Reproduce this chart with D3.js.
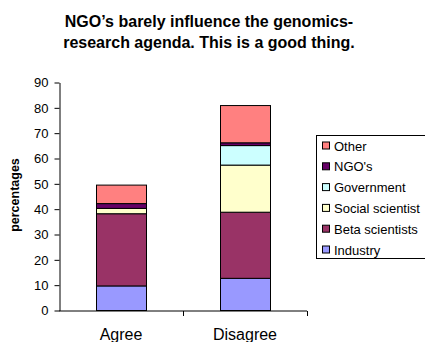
<!DOCTYPE html>
<html>
<head>
<meta charset="utf-8">
<script src="https://cdn.jsdelivr.net/npm/d3@7"></script>
<style>
  html, body { margin: 0; padding: 0; background: #fff; }
  svg { display: block; font-family: "Liberation Sans", Arial, sans-serif; }
</style>
</head>
<body>
<svg id="chart" width="425" height="342"></svg>
<script>
// Who steers the genomics-research agenda: share of answers per stakeholder group
const categories = ["Agree", "Disagree"];
const seriesNames = ["Industry", "Beta scientists", "Social scientist", "Government", "NGO's", "Other"];
const industry        = [9.7, 12.7];
const betaScientists  = [28.5, 26.1];
const socialScientist = [2.1, 18.6];
const government      = [0.0, 7.7];
const ngos            = [1.9, 1.1];
const other           = [7.3, 14.7];
const yTicks = [0, 10, 20, 30, 40, 50, 60, 70, 80, 90];
const colors = ["#9999FF", "#993366", "#FFFFCC", "#CCFFFF", "#660066", "#FF8080"];

const seriesValues = [industry, betaScientists, socialScientist, government, ngos, other];
const rows = categories.map((c, i) => {
  const r = { category: c };
  seriesNames.forEach((s, k) => { r[s] = seriesValues[k][i]; });
  return r;
});

const svg = d3.select("#chart");
const plot = { left: 59, right: 307, top: 82.5, bottom: 310.5 };

const x = d3.scaleBand().domain(categories).range([plot.left, plot.right]).paddingInner(0).paddingOuter(0);
const y = d3.scaleLinear().domain([0, 90]).range([plot.bottom, plot.top]);

const stacked = d3.stack().keys(seriesNames)(rows);
const barW = x.bandwidth() / 2.5;

// Bars
const g = svg.append("g");
stacked.forEach((layer, k) => {
  g.selectAll(null)
    .data(layer.filter(d => d[1] - d[0] > 0))
    .enter().append("rect")
    .attr("x", d => Math.round(x(d.data.category) + (x.bandwidth() - barW) / 2) + 0.5)
    .attr("y", d => y(d[1]))
    .attr("width", Math.round(barW))
    .attr("height", d => y(d[0]) - y(d[1]))
    .attr("fill", colors[k])
    .attr("stroke", "#000")
    .attr("stroke-width", 1);
});

// Y axis
const yAxis = d3.axisLeft(y).tickValues(yTicks).tickSize(5).tickPadding(6).tickSizeOuter(0);
const ya = svg.append("g").attr("transform", `translate(${plot.left + 0.5},0)`).call(yAxis);
ya.select(".domain").attr("stroke", "#000");
ya.selectAll(".tick line").attr("stroke", "#000");
ya.selectAll(".tick text").attr("font-size", 13).attr("fill", "#000")
  .attr("font-family", "Liberation Sans, Arial, sans-serif");

// X axis: ticks mark category boundaries
const xa = svg.append("g").attr("transform", `translate(0,${plot.bottom + 0.5})`);
xa.append("line").attr("x1", plot.left).attr("x2", plot.right).attr("stroke", "#000");
const bounds = [x(categories[1]), plot.right];
xa.selectAll(null).data(bounds).enter().append("line")
  .attr("x1", d => Math.round(d) + 0.5).attr("x2", d => Math.round(d) + 0.5)
  .attr("y1", 0).attr("y2", 5).attr("stroke", "#000");
xa.selectAll(null).data(categories).enter().append("text")
  .attr("x", d => x(d) + x.bandwidth() / 2)
  .attr("y", 29)
  .attr("text-anchor", "middle")
  .attr("font-size", 16)
  .attr("fill", "#000")
  .text(d => d);

// Y axis title
svg.append("text")
  .attr("transform", `translate(19,195) rotate(-90)`)
  .attr("text-anchor", "middle")
  .attr("font-size", 12.5)
  .attr("font-weight", "bold")
  .text("percentages");

// Chart title
const title = svg.append("text").attr("text-anchor", "middle").attr("font-size", 16).attr("font-weight", "bold");
title.append("tspan").attr("x", 209).attr("y", 27).text("NGO’s barely influence the genomics-");
title.append("tspan").attr("x", 209).attr("y", 48).text("research agenda. This is a good thing.");

// Legend (top entry = last series)
const legend = svg.append("g");
legend.append("rect").attr("x", 316.5).attr("y", 135.5).attr("width", 120).attr("height", 123)
  .attr("fill", "#fff").attr("stroke", "#000");
const legendItems = seriesNames.map((s, k) => ({ name: s, color: colors[k] })).reverse();
const li = legend.selectAll(null).data(legendItems).enter().append("g")
  .attr("transform", (d, i) => `translate(322,${145.5 + i * 20.8})`);
li.append("rect").attr("x", 0.5).attr("y", -3.5).attr("width", 7).attr("height", 7)
  .attr("fill", d => d.color).attr("stroke", "#000");
li.append("text").attr("x", 12).attr("y", 5).attr("font-size", 13).attr("fill", "#000").text(d => d.name);
</script>
</body>
</html>
